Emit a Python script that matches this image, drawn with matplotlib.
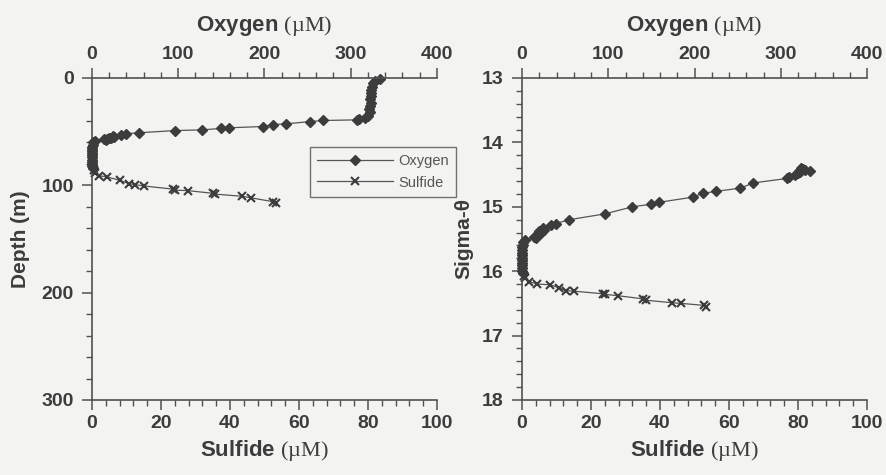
import matplotlib
matplotlib.use("Agg")
import matplotlib.pyplot as plt
from matplotlib.ticker import MultipleLocator

plt.rcParams['font.family'] = ['Liberation Sans', 'DejaVu Sans']
plt.rcParams['mathtext.fontset'] = 'custom'
plt.rcParams['mathtext.rm'] = 'Liberation Serif'

# 溶解氧剖面：浓度、深度、位密度
o2 = [334, 328, 326, 325, 324, 323, 324, 322, 323, 322, 321, 322, 320, 316, 310,
      307, 268, 253, 225, 210, 198, 159, 150, 128, 96, 55, 39, 34,
      24, 26, 20, 22, 18, 14, 16, 3,
      1.5, 0.8, 0.5, 0.3, 0.5, 0.3, 0.2, 0.4, 0.3, 0.2, 0.3, 0.5, 1.0]
o2_depth = [0.5, 3, 5, 8, 11, 14, 17, 20, 23, 26, 29, 32, 35, 37, 38.5,
            39, 39.6, 40.6, 42.7, 43.4, 45.2, 46.4, 47, 48.3, 49, 51, 52, 53,
            54, 55, 55.5, 56, 56.5, 57, 58, 58.5,
            60, 62, 64, 66, 68, 70, 72, 74, 76, 78, 80, 82, 84]
o2_sigma = [14.44, 14.43, 14.42, 14.41, 14.40, 14.41, 14.42, 14.43, 14.43, 14.44, 14.45, 14.46, 14.48, 14.50, 14.53,
            14.56, 14.63, 14.71, 14.76, 14.79, 14.85, 14.93, 14.96, 15.00, 15.11, 15.20, 15.26, 15.29,
            15.33, 15.36, 15.38, 15.41, 15.44, 15.47, 15.49, 15.51,
            15.55, 15.59, 15.63, 15.67, 15.71, 15.75, 15.79, 15.83, 15.87, 15.91, 15.95, 15.99, 16.03]

# 硫化物剖面
h2s = [0.3, 0.2, 0.4, 0.6, 0.8, 2.0, 4.4, 8.2, 10.7, 12.6, 15.0,
       23.4, 24.0, 27.7, 35.2, 35.8, 43.5, 46.2, 52.6, 53.4]
h2s_depth = [74, 78, 82, 86, 88.5, 91, 92.2, 95.4, 98.5, 99.4, 100.6,
             103.5, 104.5, 104.9, 107.5, 108.2, 110.2, 111.7, 115.3, 116.3]
h2s_sigma = [15.83, 15.91, 15.99, 16.07, 16.11, 16.16, 16.20, 16.21, 16.26, 16.30, 16.31,
             16.35, 16.36, 16.38, 16.43, 16.45, 16.49, 16.50, 16.53, 16.55]

bg = '#f3f3f1'
ink = '#3c3c3c'

fig = plt.figure(figsize=(8.86, 4.75), dpi=100, facecolor=bg)


def make_panel(rect, ylim, ymajor, yminor, ylabel, ylabel_x, h2s_y, o2_y):
    ax = fig.add_axes(rect)
    ax.set_facecolor('none')
    top = ax.twiny()
    top.set_facecolor('none')

    ax.set_xlim(0, 100)
    top.set_xlim(0, 400)
    ax.set_ylim(*ylim)

    lo, = top.plot(o2, o2_y, '-', color='#555555', lw=0.9, marker='D', ms=5,
                   mfc=ink, mec=ink, clip_on=False)
    ls, = ax.plot(h2s, h2s_y, '-', color='#555555', lw=0.9, marker='x', ms=6,
                  mew=1.5, mec=ink, clip_on=False)

    ax.xaxis.set_major_locator(MultipleLocator(20))
    ax.xaxis.set_minor_locator(MultipleLocator(4))
    ax.yaxis.set_major_locator(MultipleLocator(ymajor))
    ax.yaxis.set_minor_locator(MultipleLocator(yminor))
    top.xaxis.set_major_locator(MultipleLocator(100))
    top.xaxis.set_minor_locator(MultipleLocator(20))

    for a in (ax, top):
        a.spines['right'].set_visible(False)
        for s in a.spines.values():
            s.set_color('#505050')
            s.set_linewidth(1.2)
        a.tick_params(which='major', direction='out', length=7, width=1.1,
                      color='#505050', labelsize=14, labelcolor=ink, pad=4)
        a.tick_params(which='minor', direction='out', length=4, width=1.0,
                      color='#505050')
    ax.tick_params(axis='y', which='major', pad=6)
    ax.spines['top'].set_visible(False)
    top.spines['left'].set_visible(False)
    top.spines['bottom'].set_visible(False)
    for t in ax.get_xticklabels() + ax.get_yticklabels() + top.get_xticklabels():
        t.set_fontweight('bold')

    ax.set_xlabel(r'Sulfide $\mathrm{(µM)}$', fontsize=16, fontweight='bold', color=ink)
    top.set_xlabel(r'Oxygen $\mathrm{(µM)}$', fontsize=16, fontweight='bold', color=ink)
    ax.set_ylabel(ylabel, fontsize=15, fontweight='bold', color=ink)
    ax.xaxis.set_label_coords(0.5, -0.118)
    top.xaxis.set_label_coords(0.5, 1.145)
    ax.yaxis.set_label_coords(ylabel_x, 0.5)
    return lo, ls


lo, ls = make_panel([0.1038, 0.1579, 0.3894, 0.6779], (300, 0), 100, 20,
                    'Depth (m)', -0.18, h2s_depth, o2_depth)
make_panel([0.5892, 0.1579, 0.3894, 0.6779], (18, 13), 1, 0.2,
           'Sigma-θ', -0.142, h2s_sigma, o2_sigma)

leg = fig.legend([lo, ls], ['Oxygen', 'Sulfide'], loc='upper left',
                 bbox_to_anchor=(310 / 886, 1 - 147 / 475), borderaxespad=0,
                 fontsize=10.5, handlelength=5.2, handletextpad=0.35,
                 borderpad=0.5, labelspacing=0.5, fancybox=False, frameon=True)
leg.get_frame().set_edgecolor('#505050')
leg.get_frame().set_linewidth(1.0)
leg.get_frame().set_facecolor(bg)
for t in leg.get_texts():
    t.set_color('#555555')

fig.savefig('out.png', dpi=100, facecolor=bg)
